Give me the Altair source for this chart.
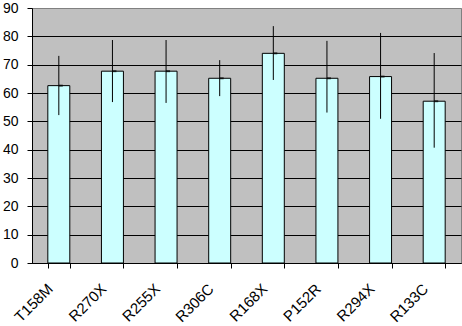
import altair as alt
import pandas as pd

categories = ["T158M", "R270X", "R255X", "R306C", "R168X", "P152R", "R294X", "R133C"]
means = [62.6, 67.7, 67.7, 65.2, 74.0, 65.2, 65.8, 57.1]
err_low = [52.2, 56.8, 56.5, 58.9, 64.6, 53.1, 50.9, 40.7]
err_high = [73.1, 78.7, 78.7, 71.6, 83.6, 78.4, 81.2, 74.1]
y_ticks = [0, 10, 20, 30, 40, 50, 60, 70, 80, 90]

df = pd.DataFrame({"cat": categories, "mean": means, "lo": err_low, "hi": err_high})

FONT = "Liberation Sans"

x_scale = alt.Scale(paddingInner=0.59, paddingOuter=0.295)
x_axis = alt.Axis(
    labelAngle=-45,
    labelAlign="right",
    labelBaseline="top",
    labelPadding=13,
    labelOffset=-14,
    labelFont=FONT,
    labelFontSize=15,
    labelColor="black",
    tickBand="extent",
    tickSize=5,
    tickColor="black",
    domainColor="black",
    grid=False,
)

y_scale = alt.Scale(domain=[0, 90], nice=False)
y_axis = alt.Axis(
    values=y_ticks,
    title=None,
    labelFont=FONT,
    labelFontSize=14,
    labelColor="black",
    labelPadding=9,
    labelOverlap=False,
    tickSize=5,
    tickColor="black",
    domainColor="black",
    grid=True,
    gridColor={"condition": {"test": "datum.value === 90", "value": "#808080"}, "value": "black"},
    gridOpacity=1,
)


def X():
    return alt.X("cat:N", sort=categories, title=None, scale=x_scale, axis=x_axis)


base = alt.Chart(df)

bars = base.mark_bar(color="#CCFFFF", stroke="black", strokeWidth=1).encode(
    x=X(),
    y=alt.Y("mean:Q", scale=y_scale, axis=y_axis),
)

errs = base.mark_rule(color="black", strokeWidth=1).encode(
    x=X(),
    y=alt.Y("lo:Q", scale=y_scale, axis=y_axis),
    y2="hi:Q",
)

dots = base.mark_tick(color="black", orient="horizontal", size=4, thickness=2, xOffset=2).encode(
    x=X(),
    y=alt.Y("mean:Q", scale=y_scale, axis=y_axis),
)

chart = (
    alt.layer(bars, errs, dots)
    .properties(
        width=429,
        height=255,
        padding={"left": 32, "top": 8, "right": 1, "bottom": 63},
        autosize=alt.AutoSizeParams(type="none"),
        background="white",
    )
    .configure_view(fill="#C0C0C0", stroke="#808080", strokeWidth=1)
)

chart.save("out.html", embed_options={"renderer": "svg", "actions": False})
